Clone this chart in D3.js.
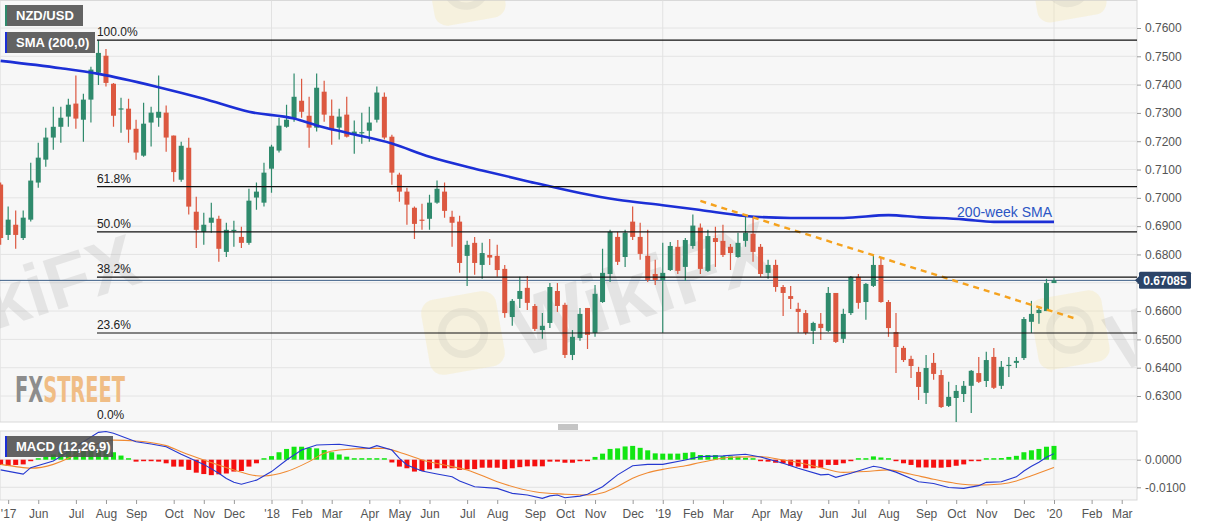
<!DOCTYPE html>
<html>
<head>
<meta charset="utf-8">
<style>
body { margin: 0; background: #fff; }
svg { display: block; font-family: "Liberation Sans", Arial, sans-serif; }
</style>
</head>
<body>
<svg width="1207" height="526"></svg>
<script src="https://d3js.org/d3.v7.min.js"></script>
<script>

// weekly candles, first one is the week ending Fri 28 Apr 2017
var firstWeek = new Date(Date.UTC(2017, 3, 28));

var opens = [0.7047,0.6869,0.6905,0.6858,0.6923,0.7054,0.7135,0.7213,0.7251,0.7287,0.7333,0.7276,0.7347,0.7442,0.7502,0.7403,0.7312,0.7315,0.7244,0.7149,0.7266,0.7283,0.7301,0.7220,0.7064,0.7177,0.6951,0.6880,0.6912,0.6926,0.6809,0.6884,0.6862,0.6841,0.7001,0.6983,
  0.7103,0.7167,0.7251,0.7280,0.7343,0.7290,0.7248,0.7375,0.7290,0.7248,0.7294,0.7223,0.7230,0.7237,0.7276,0.7357,0.7216,0.7082,0.7022,0.6965,0.6923,0.6926,0.6983,0.7022,0.6933,0.6916,0.6795,0.6841,0.6763,0.6798,0.6795,0.6749,0.6579,0.6643,0.6682,0.6618,0.6533,0.6558,0.6671,0.6622,0.6445,0.6505,0.6611,0.6523,
  0.6632,0.6731,0.6862,0.6791,0.6916,0.6862,0.6795,0.6731,0.6710,0.6745,0.6827,0.6756,0.6830,0.6895,0.6742,0.6858,0.6848,0.6827,0.6791,0.6848,0.6873,0.6827,0.6735,0.6763,0.6685,0.6653,0.6608,0.6593,0.6530,0.6555,0.6530,0.6664,0.6502,0.6593,0.6721,0.6632,0.6689,0.6763,0.6632,0.6526,0.6470,0.6431,0.6385,0.6311,0.6417,0.6374,0.6265,0.6293,0.6307,0.6336,0.6381,0.6353,0.6438,0.6336,0.6408,0.6417,0.6434,0.6562,0.6593,0.6600,0.6699];
var highs = [0.7054,0.6969,0.6955,0.6955,0.7124,0.7195,0.7248,0.7322,0.7322,0.7350,0.7432,0.7368,0.7463,0.7557,0.7526,0.7406,0.7354,0.7350,0.7276,0.7336,0.7322,0.7432,0.7326,0.7220,0.7198,0.7212,0.7004,0.6947,0.6983,0.6937,0.6912,0.6919,0.6898,0.7032,0.7054,0.7124,
  0.7188,0.7283,0.7329,0.7439,0.7421,0.7357,0.7439,0.7414,0.7347,0.7315,0.7357,0.7273,0.7301,0.7322,0.7393,0.7372,0.7223,0.7089,0.7036,0.6969,0.6979,0.7011,0.7061,0.7054,0.6954,0.6937,0.6848,0.6862,0.6841,0.6855,0.6834,0.6763,0.6643,0.6721,0.6724,0.6625,0.6593,0.6699,0.6699,0.6629,0.6533,0.6611,0.6611,0.6692,
  0.6820,0.6887,0.6880,0.6887,0.6969,0.6912,0.6887,0.6781,0.6841,0.6844,0.6851,0.6858,0.6941,0.6909,0.6887,0.6898,0.6905,0.6837,0.6877,0.6941,0.6930,0.6837,0.6781,0.6781,0.6692,0.6689,0.6629,0.6604,0.6562,0.6593,0.6685,0.6664,0.6608,0.6724,0.6731,0.6699,0.6798,0.6791,0.6639,0.6593,0.6477,0.6442,0.6403,0.6445,0.6452,0.6392,0.6350,0.6339,0.6353,0.6392,0.6438,0.6456,0.6470,0.6424,0.6438,0.6438,0.6579,0.6636,0.6618,0.6714,0.6717];
var lows = [0.6834,0.6851,0.6820,0.6851,0.6916,0.7036,0.7110,0.7170,0.7195,0.7251,0.7244,0.7198,0.7266,0.7399,0.7393,0.7251,0.7230,0.7195,0.7135,0.7145,0.7181,0.7251,0.7163,0.7057,0.7057,0.6941,0.6823,0.6834,0.6877,0.6774,0.6791,0.6827,0.6823,0.6834,0.6958,0.6969,
  0.7018,0.7160,0.7248,0.7269,0.7283,0.7177,0.7234,0.7269,0.7188,0.7206,0.7213,0.7156,0.7191,0.7198,0.7266,0.7206,0.7046,0.6986,0.6905,0.6855,0.6887,0.6887,0.6979,0.6930,0.6827,0.6735,0.6689,0.6728,0.6714,0.6763,0.6721,0.6576,0.6548,0.6611,0.6604,0.6530,0.6502,0.6540,0.6597,0.6434,0.6427,0.6495,0.6466,0.6509,
  0.6629,0.6703,0.6763,0.6756,0.6851,0.6781,0.6703,0.6692,0.6523,0.6742,0.6731,0.6706,0.6820,0.6731,0.6738,0.6756,0.6791,0.6745,0.6788,0.6827,0.6774,0.6721,0.6714,0.6668,0.6583,0.6607,0.6523,0.6516,0.6484,0.6498,0.6526,0.6487,0.6487,0.6586,0.6608,0.6569,0.6685,0.6629,0.6509,0.6381,0.6420,0.6364,0.6286,0.6272,0.6357,0.6258,0.6261,0.6205,0.6279,0.6240,0.6346,0.6332,0.6325,0.6325,0.6367,0.6399,0.6427,0.6523,0.6555,0.6600,0.6699];
var closes = [0.6858,0.6923,0.6869,0.6930,0.7061,0.7142,0.7213,0.7251,0.7283,0.7329,0.7280,0.7347,0.7453,0.7512,0.7406,0.7290,0.7316,0.7241,0.7160,0.7262,0.7301,0.7304,0.7213,0.7091,0.7184,0.6969,0.6887,0.6905,0.6930,0.6820,0.6887,0.6887,0.6841,0.6990,0.7022,0.7089,
  0.7181,0.7255,0.7276,0.7357,0.7304,0.7248,0.7389,0.7294,0.7241,0.7287,0.7216,0.7234,0.7232,0.7266,0.7372,0.7213,0.7089,0.7022,0.6976,0.6908,0.6919,0.6983,0.7032,0.6954,0.6912,0.6770,0.6834,0.6770,0.6805,0.6789,0.6745,0.6593,0.6636,0.6671,0.6629,0.6537,0.6548,0.6685,0.6618,0.6445,0.6509,0.6590,0.6516,0.6661,
  0.6735,0.6880,0.6774,0.6877,0.6862,0.6802,0.6710,0.6710,0.6735,0.6830,0.6742,0.6851,0.6902,0.6749,0.6865,0.6844,0.6798,0.6805,0.6841,0.6877,0.6809,0.6731,0.6763,0.6685,0.6664,0.6643,0.6597,0.6523,0.6558,0.6540,0.6664,0.6491,0.6590,0.6721,0.6629,0.6696,0.6763,0.6632,0.6540,0.6473,0.6427,0.6406,0.6332,0.6399,0.6378,0.6261,0.6297,0.6318,0.6336,0.6389,0.6350,0.6427,0.6329,0.6403,0.6410,0.6424,0.6572,0.6590,0.6604,0.6699,0.67085];

// 200-week SMA read at some weeks (index into the candle list)
var smaWeeks  = [0, 8, 13, 21, 27, 33, 39, 42, 46, 52, 57, 64, 70, 77, 82, 88, 93, 99, 105, 112, 118, 122, 128, 132, 140];
var smaValues = [0.7484,0.7458,0.7438,0.7391,0.7350,0.7304,0.7280,0.7256,0.7230,0.7192,0.7145,0.7097,0.7059,0.7017,0.6993,0.6974,0.6957,0.6936,0.6929,0.6929,0.6939,0.6932,0.6924,0.6915,0.6915];

var trendWeeks  = [93, 143];
var trendValues = [0.6989, 0.6572];

var swingHigh = 0.7557, swingLow = 0.6203, swingWeek = 13;
var fibRatios = [1, 0.618, 0.5, 0.382, 0.236, 0];
var lastPrice = 0.67085;

var macdHist = [-0.0019,-0.0022,-0.0019,-0.0017,-0.0004,0.0002,0.0011,0.0019,0.0029,0.0035,0.0031,0.0033,0.0036,0.0035,0.0034,0.0027,0.0015,0.0005,-0.0007,-0.0005,-0.0005,-0.0007,-0.0013,-0.0025,-0.0025,-0.0037,-0.0047,-0.0052,-0.0056,-0.0053,-0.0050,-0.0043,-0.0041,-0.0025,-0.0013,0.0001,
  0.0013,0.0027,0.0039,0.0047,0.0047,0.0043,0.0041,0.0035,0.0027,0.0019,0.0011,0.0005,0.0004,0.0004,0.0004,0.0002,-0.0010,-0.0025,-0.0031,-0.0043,-0.0041,-0.0035,-0.0031,-0.0031,-0.0031,-0.0037,-0.0035,-0.0034,-0.0029,-0.0029,-0.0029,-0.0034,-0.0031,-0.0027,-0.0024,-0.0024,-0.0024,-0.0007,-0.0007,-0.0011,-0.0011,-0.0002,-0.0001,0.0010,
  0.0022,0.0039,0.0041,0.0048,0.0050,0.0043,0.0034,0.0023,0.0022,0.0022,0.0022,0.0025,0.0027,0.0017,0.0017,0.0017,0.0013,0.0012,0.0011,0.0007,0.0002,-0.0002,-0.0007,-0.0011,-0.0013,-0.0022,-0.0025,-0.0031,-0.0031,-0.0029,-0.0019,-0.0019,-0.0013,-0.0002,0.0001,0.0005,0.0012,0.0008,0.0002,-0.0004,-0.0013,-0.0019,-0.0028,-0.0028,-0.0029,-0.0029,-0.0027,-0.0022,-0.0017,-0.0005,-0.0002,0.0002,0.0002,0.0006,0.0010,0.0014,0.0027,0.0034,0.0039,0.0047,0.0050];

var macdWeeks  = [0,3,4,7,9,11,13,14,15,18,20,22,24,27,29,30,31,32,34,36,38,40,42,45,49,50,52,53,54,56,58,60,61,63,66,68,70,72,73,74,75,77,78,80,82,84,86,88,91,93,96,99,101,104,106,109,110,111,113,116,117,119,122,124,126,128,130,131,133,135,136,137,138,139,140];
var macdValues = [-0.0037,-0.0052,-0.0029,-0.0005,0.0029,0.0065,0.0099,0.0102,0.0096,0.0065,0.0057,0.0047,0.0020,-0.0017,-0.0049,-0.0068,-0.0082,-0.0089,-0.0074,-0.0043,-0.0001,0.0035,0.0053,0.0056,0.0041,0.0051,0.0035,0.0005,-0.0019,-0.0041,-0.0052,-0.0062,-0.0077,-0.0098,-0.0104,-0.0122,-0.0128,-0.0140,-0.0131,-0.0128,-0.0138,-0.0132,-0.0125,-0.0098,-0.0055,-0.0022,-0.0017,-0.0017,-0.0001,0.0011,0.0014,0.0020,0.0010,-0.0013,-0.0031,-0.0055,-0.0053,-0.0064,-0.0049,-0.0024,-0.0028,-0.0045,-0.0080,-0.0086,-0.0101,-0.0104,-0.0094,-0.0082,-0.0080,-0.0062,-0.0041,-0.0024,-0.0009,0.0009,0.0022];

var signalWeeks  = [0,2,4,7,9,11,13,15,18,22,24,27,31,34,35,38,41,43,45,49,51,53,56,60,62,66,71,75,78,80,82,84,86,88,91,93,95,97,101,104,106,109,112,115,118,121,124,127,130,133,135,137,140];
var signalValues = [-0.0017,-0.0025,-0.0031,-0.0017,0.0005,0.0035,0.0059,0.0071,0.0068,0.0051,0.0029,-0.0001,-0.0037,-0.0058,-0.0059,-0.0043,-0.0007,0.0023,0.0035,0.0041,0.0041,0.0027,-0.0001,-0.0025,-0.0037,-0.0080,-0.0116,-0.0125,-0.0128,-0.0120,-0.0097,-0.0067,-0.0047,-0.0035,-0.0022,-0.0010,0.0001,0.0009,0.0011,-0.0001,-0.0010,-0.0029,-0.0046,-0.0043,-0.0037,-0.0053,-0.0071,-0.0086,-0.0092,-0.0088,-0.0077,-0.0058,-0.0028];

var priceTicks = [0.63,0.64,0.65,0.66,0.67,0.68,0.69,0.70,0.71,0.72,0.73,0.74,0.75,0.76];
var macdTicks = [0, -0.01];

var green = "#2f8a6c", red = "#dc5840";

var svg = d3.select("svg");
var plotRight = 1137,
    mainTop = 0.5, mainBottom = 422,
    macdTop = 431, macdBottom = 500;

function weekDate(i) { return d3.utcDay.offset(firstWeek, 7 * i); }

var x = d3.scaleUtc()
    .domain([new Date(Date.UTC(2018, 0, 5)), new Date(Date.UTC(2020, 0, 3))])
    .range([271.5, 1054]);
var y = d3.scaleLinear().domain([0.63, 0.76]).range([396, 28]);
var ym = d3.scaleLinear().domain([-0.01, 0]).range([487.3, 459.7]);

var defs = svg.append("defs");
defs.append("clipPath").attr("id", "clipMain")
  .append("rect").attr("x", 0).attr("y", mainTop).attr("width", plotRight).attr("height", mainBottom - mainTop);
defs.append("clipPath").attr("id", "clipMacd")
  .append("rect").attr("x", 0).attr("y", macdTop).attr("width", plotRight).attr("height", macdBottom - macdTop);

// panels
svg.append("rect").attr("x", 0).attr("y", mainTop).attr("width", plotRight).attr("height", mainBottom - mainTop)
  .attr("fill", "#f7f7f7").attr("stroke", "#d9d9d9");
svg.append("rect").attr("x", 0).attr("y", macdTop).attr("width", plotRight).attr("height", macdBottom - macdTop)
  .attr("fill", "#f7f7f7").attr("stroke", "#d9d9d9");

var main = svg.append("g").attr("clip-path", "url(#clipMain)");
var macdG = svg.append("g").attr("clip-path", "url(#clipMacd)");

// grid
main.selectAll(".hgrid").data(priceTicks).enter().append("line")
  .attr("x1", 0).attr("x2", plotRight)
  .attr("y1", function(d) { return y(d); }).attr("y2", function(d) { return y(d); })
  .attr("stroke", "#e4e4e4");
macdG.selectAll(".hgrid").data(macdTicks).enter().append("line")
  .attr("x1", 0).attr("x2", plotRight)
  .attr("y1", function(d) { return ym(d); }).attr("y2", function(d) { return ym(d); })
  .attr("stroke", "#e2e2e2");

var years = [new Date(Date.UTC(2018,0,5)), new Date(Date.UTC(2019,0,4)), new Date(Date.UTC(2020,0,3))];
[[main, mainTop, mainBottom], [macdG, macdTop, macdBottom]].forEach(function(p) {
  p[0].selectAll(".vgrid").data(years).enter().append("line")
    .attr("x1", function(d) { return x(d); }).attr("x2", function(d) { return x(d); })
    .attr("y1", p[1]).attr("y2", p[2]).attr("stroke", "#e2e2e2");
});

// watermarks (faint)
var wm = main.append("g").attr("pointer-events", "none");
function wikiLogo(cx, cy, s) {
  var g = wm.append("g").attr("transform", "translate(" + cx + "," + cy + ") rotate(-10)");
  g.append("rect").attr("x", -s/2).attr("y", -s/2).attr("width", s).attr("height", s).attr("rx", s * 0.18)
    .attr("fill", "#f6e3a6").attr("opacity", 0.3);
  g.append("circle").attr("r", s * 0.28).attr("fill", "none").attr("stroke", "#9a9a9a")
    .attr("stroke-width", s * 0.1).attr("opacity", 0.14);
}
function wikiText(x0, y0, size, txt) {
  wm.append("text").attr("transform", "translate(" + x0 + "," + y0 + ") rotate(-18)")
    .attr("font-size", size).attr("font-weight", "bold").attr("fill", "#9c9c9c").attr("opacity", 0.2)
    .text(txt);
}
wikiText(-5, 330, 74, "kiFX");
wikiLogo(463, 333, 76);
wikiText(520, 358, 82, "WikiFX");
wikiLogo(1070, 330, 72);
wikiText(1118, 372, 80, "W");
wikiLogo(466, -14, 72);
wikiLogo(1068, -16, 70);

svg.append("text").attr("x", 15).attr("y", 402)
  .attr("font-family", "'DejaVu Sans Condensed', 'DejaVu Sans', sans-serif").attr("font-weight", "bold")
  .attr("font-size", 36).attr("textLength", 110).attr("lengthAdjust", "spacingAndGlyphs")
  .call(function(t) {
    t.append("tspan").attr("fill", "#8d8d8d").text("FX");
    t.append("tspan").attr("fill", "#f0bd85").text("STREET");
  });

// fibonacci retracement
var fibX0 = x(weekDate(swingWeek)) - 1.5;
var fib = svg.append("g");
fibRatios.forEach(function(r) {
  var level = swingLow + r * (swingHigh - swingLow);
  if (r > 0) {
    fib.append("line").attr("x1", fibX0).attr("x2", plotRight)
      .attr("y1", y(level)).attr("y2", y(level)).attr("stroke", "#111").attr("stroke-width", 1.2);
  }
  fib.append("text").attr("x", fibX0).attr("y", y(level) - 4)
    .attr("font-size", 12).attr("fill", "#222").text(d3.format(".1%")(r));
});

// last price line
main.append("line").attr("x1", 0).attr("x2", plotRight)
  .attr("y1", y(lastPrice)).attr("y2", y(lastPrice)).attr("stroke", "#3d5f88").attr("stroke-width", 1);

// candles
var candles = opens.map(function(o, i) {
  return { date: weekDate(i), o: o, h: highs[i], l: lows[i], c: closes[i] };
});
var cg = main.selectAll(".candle").data(candles).enter().append("g");
cg.append("line")
  .attr("x1", function(d) { return x(d.date); }).attr("x2", function(d) { return x(d.date); })
  .attr("y1", function(d) { return y(d.h); }).attr("y2", function(d) { return y(d.l); })
  .attr("stroke", function(d) { return d.c >= d.o ? green : red; }).attr("stroke-width", 1.2);
cg.append("rect")
  .attr("x", function(d) { return x(d.date) - 2.5; }).attr("width", 5)
  .attr("y", function(d) { return y(Math.max(d.o, d.c)); })
  .attr("height", function(d) { return Math.max(1.2, Math.abs(y(d.o) - y(d.c))); })
  .attr("fill", function(d) { return d.c >= d.o ? green : red; });

// SMA
var smaLine = d3.line().curve(d3.curveMonotoneX)
  .x(function(d) { return x(weekDate(d[0])); }).y(function(d) { return y(d[1]); });
main.append("path").datum(d3.zip(smaWeeks, smaValues)).attr("d", smaLine)
  .attr("fill", "none").attr("stroke", "#1c2fd6").attr("stroke-width", 2.6);

// trend line
main.append("path").datum(d3.zip(trendWeeks, trendValues))
  .attr("d", d3.line().x(function(d) { return x(weekDate(d[0])); }).y(function(d) { return y(d[1]); }))
  .attr("stroke", "#f5a21e").attr("stroke-width", 2.4).attr("stroke-dasharray", "6,5").attr("fill", "none");

svg.append("text").attr("x", 1052).attr("y", 217).attr("text-anchor", "end")
  .attr("font-size", 14).attr("fill", "#2c55c4").text("200-week SMA");

// MACD panel
macdG.selectAll(".bar").data(macdHist).enter().append("rect")
  .attr("x", function(d, i) { return x(weekDate(i)) - 2.5; }).attr("width", 5)
  .attr("y", function(d) { return d >= 0 ? Math.min(ym(d), ym(0) - 1.5) : ym(0); })
  .attr("height", function(d) { return Math.max(1.5, Math.abs(ym(d) - ym(0))); })
  .attr("fill", function(d) { return d >= 0 ? "#12e612" : "#f50f0f"; });

var mLine = d3.line().x(function(d) { return x(weekDate(d[0])); }).y(function(d) { return ym(d[1]); });
macdG.append("path").datum(d3.zip(signalWeeks, signalValues)).attr("d", mLine.curve(d3.curveMonotoneX))
  .attr("fill", "none").attr("stroke", "#f08a32").attr("stroke-width", 1.1);
macdG.append("path").datum(d3.zip(macdWeeks, macdValues)).attr("d", mLine.curve(d3.curveLinear))
  .attr("fill", "none").attr("stroke", "#2538d0").attr("stroke-width", 1.1);

// panel splitter handle
[425, 427, 429].forEach(function(yy) {
  svg.append("line").attr("x1", 558).attr("x2", 578).attr("y1", yy).attr("y2", yy).attr("stroke", "#8a8a8a");
});

// legends
function legend(y0, w, label, accent) {
  var g = svg.append("g");
  g.append("rect").attr("x", 5).attr("y", y0).attr("width", w).attr("height", 21).attr("fill", "#4f4f4f").attr("opacity", 0.88);
  g.append("rect").attr("x", 5).attr("y", y0).attr("width", 2).attr("height", 21).attr("fill", accent);
  g.append("text").attr("x", 16).attr("y", y0 + 15).attr("font-size", 13).attr("font-weight", "bold")
    .attr("fill", "#fff").text(label);
}
legend(5, 78, "NZD/USD", green);
legend(32, 90, "SMA (200,0)", "#1c2fd6");
legend(436, 108, "MACD (12,26,9)", "#1c2fd6");

// right axes
var fmtNum = function(d) { return d3.format(".4f")(d).replace("\u2212", "-"); };
var yAxis = svg.append("g").attr("transform", "translate(" + plotRight + ",0)")
  .call(d3.axisRight(y).tickValues(priceTicks).tickFormat(fmtNum).tickSize(4).tickPadding(4));
var mAxis = svg.append("g").attr("transform", "translate(" + plotRight + ",0)")
  .call(d3.axisRight(ym).tickValues(macdTicks).tickFormat(fmtNum).tickSize(4).tickPadding(4));
[yAxis, mAxis].forEach(function(a) {
  a.select(".domain").remove();
  a.selectAll(".tick line").attr("stroke", "#9a9a9a");
  a.selectAll(".tick text").attr("fill", "#555").attr("font-size", 12)
    .attr("font-family", "'Liberation Sans', Arial, sans-serif");
});

// last price tag
var tagY = y(lastPrice);
svg.append("path")
  .attr("d", "M1135," + tagY + "L1140," + (tagY - 5) + "L1140," + (tagY + 5) + "Z").attr("fill", "#2b4468");
svg.append("rect").attr("x", 1139).attr("y", tagY - 8.5).attr("width", 52).attr("height", 17).attr("rx", 1.5)
  .attr("fill", "#2b4468");
svg.append("text").attr("x", 1165).attr("y", tagY + 4.5).attr("text-anchor", "middle")
  .attr("font-size", 12).attr("font-weight", "bold").attr("fill", "#fff").text(lastPrice.toFixed(5));

// time axis: first Friday of each month
var months = d3.utcMonth.range(new Date(Date.UTC(2017, 4, 1)), new Date(Date.UTC(2020, 3, 1)));
var tickDates = months.map(function(m) { return d3.utcFriday.ceil(m); });
var xAxis = svg.append("g").attr("transform", "translate(0," + macdBottom + ")")
  .call(d3.axisBottom(x).tickValues(tickDates).tickSize(4).tickPadding(5)
    .tickFormat(function(d, i) {
      return (i === 0 || d.getUTCMonth() === 0) ? "'" + String(d.getUTCFullYear()).slice(2) : d3.utcFormat("%b")(d);
    }));
xAxis.select(".domain").remove();
xAxis.selectAll(".tick line").attr("stroke", "#9a9a9a");
xAxis.selectAll(".tick text").attr("fill", "#555").attr("font-size", 12)
  .attr("font-family", "'Liberation Sans', Arial, sans-serif");

</script>
</body>
</html>
